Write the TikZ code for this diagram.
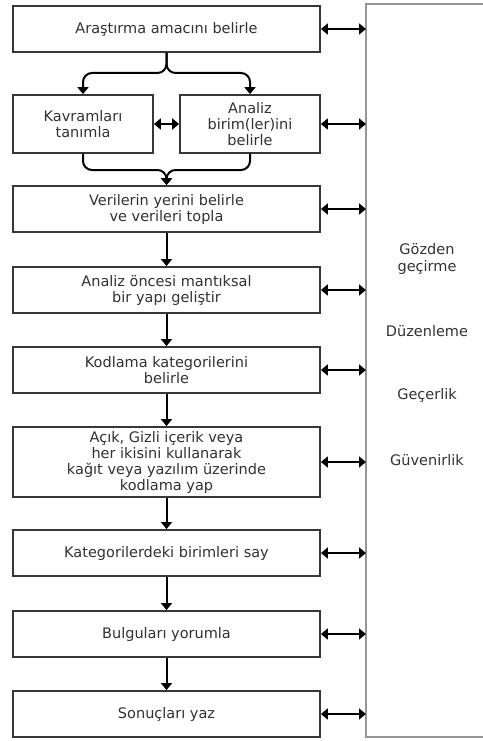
\documentclass[tikz,border=0pt]{standalone}
\usepackage{fontspec}
\setmainfont{DejaVu Sans}
\usetikzlibrary{arrows.meta}
\definecolor{boxline}{RGB}{55,55,55}
\definecolor{txt}{RGB}{50,50,50}
\definecolor{sideline}{RGB}{150,150,150}
\begin{document}
\begin{tikzpicture}[x=1pt,y=-1pt,
  stepbox/.style={draw=boxline, line width=1.8pt, fill=white, text=txt, align=center,
    inner sep=0pt, font=\fontsize{14.5}{16}\selectfont},
  wide/.style={stepbox, minimum width=307pt, minimum height=46pt},
  half/.style={stepbox, minimum width=140pt, minimum height=58pt},
  sidelbl/.style={text=txt, align=center, font=\fontsize{14.5}{17}\selectfont},
  conn/.style={line width=2pt, draw=black},
  arr/.style={conn, -{Triangle[length=7pt,width=11pt]}},
  darr/.style={conn, {Triangle[length=7pt,width=11pt]}-{Triangle[length=7pt,width=11pt]}},
]
\useasboundingbox (0,0) rectangle (482,741);
% right panel
\draw[sideline, line width=1.4pt] (495,4) -- (366,4) -- (366,737) -- (495,737);
\coordinate (R) at (366,0);

\node[wide] (b1) at (166.5,29) {Araştırma amacını belirle};
\node[half] (k) at (83,124) {Kavramları\\tanımla};
\node[half] (a) at (250,124) {Analiz\\birim(ler)ini\\belirle};
\node[wide] (b3) at (166.5,209) {Verilerin yerini belirle\\ve verileri topla};
\node[wide] (b4) at (166.5,290) {Analiz öncesi mantıksal\\bir yapı geliştir};
\node[wide] (b5) at (166.5,370) {Kodlama kategorilerini\\belirle};
\node[wide, minimum height=70pt] (b6) at (166.5,462) {Açık, Gizli içerik veya\\her ikisini kullanarak\\kağıt veya yazılım üzerinde\\kodlama yap};
\node[wide] (b7) at (166.5,553) {Kategorilerdeki birimleri say};
\node[wide] (b8) at (166.5,634) {Bulguları yorumla};
\node[wide] (b9) at (166.5,714) {Sonuçları yaz};

\node[sidelbl] (l1) at (427,259) {Gözden\\geçirme};
\node[sidelbl] (l2) at (427,331) {Düzenleme};
\node[sidelbl] (l3) at (427,395) {Geçerlik};
\node[sidelbl] (l4) at (427,460) {Güvenirlik};

% split
\coordinate (s) at (166.5,73);
\draw[arr, rounded corners=9pt] (b1.south) |- (k.north |- s) -- (k.north);
\draw[arr, rounded corners=9pt] (b1.south) |- (a.north |- s) -- (a.north);
% merge
\coordinate (m) at (166.5,170);
\draw[arr, rounded corners=9pt] (k.south) |- (m) -- (b3.north);
\draw[arr, rounded corners=9pt] (a.south) |- (m) -- (b3.north);
\draw[darr] (k.east) -- (a.west);

\draw[arr] (b3) -- (b4);
\draw[arr] (b4) -- (b5);
\draw[arr] (b5) -- (b6);
\draw[arr] (b6) -- (b7);
\draw[arr] (b7) -- (b8);
\draw[arr] (b8) -- (b9);

\foreach \n in {b1,a,b3,b4,b5,b6,b7,b8,b9}{
  \draw[darr] (\n.east) -- (\n.east -| R);
}
\end{tikzpicture}
\end{document}
